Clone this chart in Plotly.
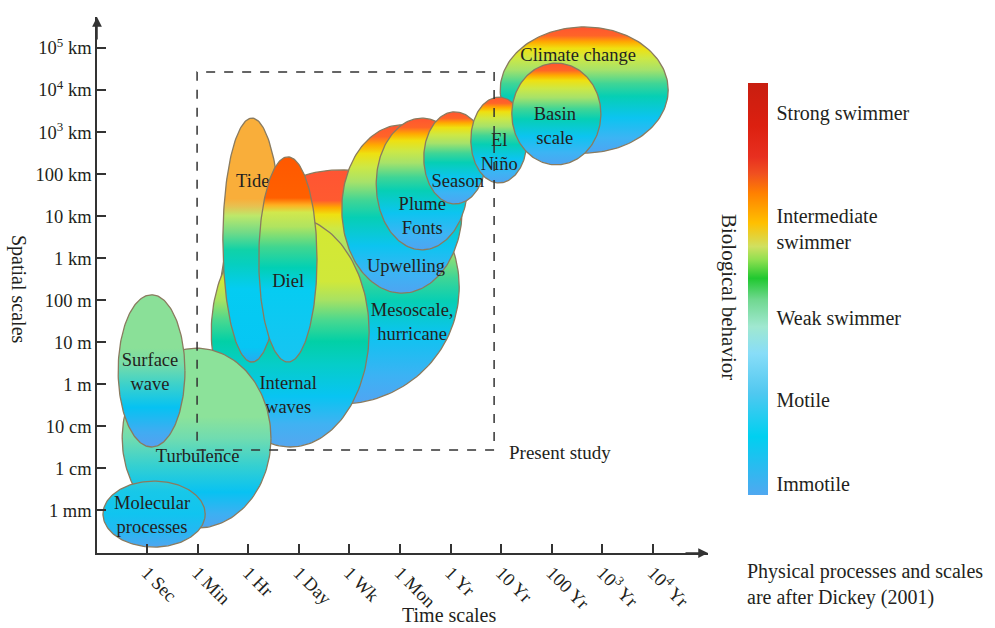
import numpy as np
import plotly.graph_objects as go

# ---- axis categories -------------------------------------------------------
time_labels = ["1 Sec", "1 Min", "1 Hr", "1 Day", "1 Wk", "1 Mon", "1 Yr",
               "10 Yr", "100 Yr", "10<sup>3</sup> Yr", "10<sup>4</sup> Yr"]
space_labels = ["1 mm", "1 cm", "10 cm", "1 m", "10 m", "100 m", "1 km",
                "10 km", "100 km", "10<sup>3</sup> km", "10<sup>4</sup> km",
                "10<sup>5</sup> km"]

# ---- physical processes: extent on the time and space scales ---------------
processes = ["Mesoscale,<br>hurricane", "Internal<br>waves", "Tide", "Diel",
             "Turbulence", "Surface<br>wave", "Molecular<br>processes",
             "Upwelling", "Plume<br>Fonts", "Season", "Climate change",
             "El<br>Niño", "Basin<br>scale"]
time_lo = [1.46, 1.27, 1.50, 2.21, -0.49, -0.57, -0.87, 3.85, 4.53, 5.47, 6.98, 6.40, 7.21]
time_hi = [6.17, 4.39, 2.65, 3.36, 2.45, 0.75, 1.15, 6.23, 6.34, 6.70, 10.30, 7.51, 8.97]
space_lo = [2.53, 1.51, 3.53, 3.53, -0.42, 1.51, -0.87, 5.17, 6.20, 7.29, 8.50, 7.79, 8.22]
space_hi = [8.10, 6.98, 9.33, 8.41, 3.86, 5.13, 0.70, 9.17, 9.33, 9.48, 11.50, 9.83, 10.64]

# extent of the present study
study_time = [0.99, 6.86]
study_space = [1.44, 10.43]

# biological behaviour classes on the colour bar
behavior_labels = ["Strong swimmer", "Intermediate<br>swimmer", "Weak swimmer",
                   "Motile", "Immotile"]
behavior_pos = [0.927, 0.646, 0.43, 0.231, 0.027]

# ---- styling -----------------------------------------------------------------
FONT = "Liberation Serif"
INK = "#231f20"
EDGE = "#8a7b5f"

full = [[0.0, "#4ea4f2"], [0.12, "#3cb4f4"], [0.28, "#0cc4f0"], [0.45, "#06cfb4"],
        [0.55, "#3fd596"], [0.66, "#a6e26a"], [0.75, "#cde845"], [0.83, "#efe010"],
        [0.88, "#ffaa00"], [0.93, "#ff6428"], [1.0, "#ff5530"]]
meso = [[0.0, "#52a4f2"], [0.12, "#3cb2f4"], [0.3, "#0cc4f0"], [0.44, "#06cfb4"],
        [0.54, "#3fd596"], [0.66, "#a6e26a"], [0.75, "#cde845"], [0.81, "#efe010"],
        [0.84, "#ffa800"], [0.87, "#ff5a30"], [1.0, "#ff5533"]]
internal = [[0.0, "#55a6f0"], [0.1, "#40b2f2"], [0.22, "#08c4f2"], [0.36, "#06cdc8"],
            [0.46, "#02d0a6"], [0.55, "#48d890"], [0.64, "#a8e262"], [0.72, "#d0e83a"],
            [1.0, "#d4e832"]]
tide = [[0.0, "#28aaf0"], [0.06, "#06c6f4"], [0.3, "#04ccf2"], [0.4, "#06cfc0"],
        [0.46, "#10d2a8"], [0.53, "#70da88"], [0.6, "#bde86a"], [0.64, "#e8c050"],
        [0.67, "#f9ae3a"], [1.0, "#f9ae3a"]]
diel = [[0.0, "#18c4f2"], [0.35, "#06ccf2"], [0.46, "#02d0b4"], [0.56, "#40d690"],
        [0.66, "#b0e460"], [0.73, "#d2e84c"], [0.765, "#ffb020"], [0.8, "#ff6000"],
        [1.0, "#ff5800"]]
turb = [[0.0, "#50a4f0"], [0.08, "#3cb0f2"], [0.2, "#08c2f2"], [0.35, "#36d0d0"],
        [0.5, "#70dcb0"], [0.62, "#8ce29a"], [1.0, "#8ce29a"]]
surface = [[0.0, "#55a0f0"], [0.1, "#40acf2"], [0.26, "#06c2f2"], [0.42, "#40d2c8"],
           [0.55, "#78dca8"], [0.65, "#8ae098"], [1.0, "#8ae098"]]
molecular = [[0.0, "#4fa6f0"], [0.25, "#24b8f2"], [0.5, "#10c4f0"], [0.85, "#18c8e8"],
             [1.0, "#34cad8"]]
fills = [meso, internal, tide, diel, turb, surface, molecular,
         full, full, full, full, full, full]

# label anchor points (time index, space index)
label_xy = [(5.24, 4.46), (2.79, 2.72), (2.09, 7.81), (2.79, 5.43), (1.0, 1.27),
            (0.06, 3.27), (0.10, -0.13), (5.12, 5.79), (5.44, 6.96), (6.14, 7.81),
            (8.52, 10.81), (6.96, 8.50), (8.06, 9.10)]

behavior_scale = [[0.0, "#50a8f0"], [0.142, "#00d0f0"], [0.247, "#50c8f0"],
                  [0.344, "#88ddf8"], [0.409, "#a0e8d0"], [0.474, "#70d890"],
                  [0.526, "#20c830"], [0.571, "#90e050"], [0.603, "#d0e060"],
                  [0.66, "#ffc000"], [0.733, "#ff8000"], [0.78, "#f05020"],
                  [0.82, "#e83020"], [0.895, "#dc2010"], [1.0, "#c81e10"]]

# ---- figure geometry -----------------------------------------------------------
W, H = 995, 628
ML, MR, MT, MB = 97, 287, 17, 75
PW, PH = W - ML - MR, H - MT - MB
XR = [-0.988, 11.087]
YR = [-1.011, 11.736]


def px(x):
    return (x - ML) / PW


def py(y):
    return (H - MB - y) / PH


fig = go.Figure()

t = np.linspace(0, 2 * np.pi, 181)
for i, name in enumerate(processes):
    cx = (time_lo[i] + time_hi[i]) / 2
    cy = (space_lo[i] + space_hi[i]) / 2
    rx = (time_hi[i] - time_lo[i]) / 2
    ry = (space_hi[i] - space_lo[i]) / 2
    fig.add_trace(go.Scatter(
        x=cx + rx * np.cos(t), y=cy + ry * np.sin(t),
        mode="lines", fill="toself",
        fillgradient=dict(type="vertical", colorscale=fills[i]),
        line=dict(color=EDGE, width=1.3),
        hoverinfo="skip", showlegend=False))
    lx, ly = label_xy[i]
    fig.add_trace(go.Scatter(
        x=[lx], y=[ly], mode="text", text=[name],
        textposition="middle center",
        textfont=dict(family=FONT, size=18.5, color=INK),
        hoverinfo="skip", showlegend=False))

# colour bar for the biological behaviour classes
fig.add_trace(go.Scatter(
    x=[-5], y=[-5], mode="markers",
    marker=dict(size=1, color=[0.5], cmin=0, cmax=1,
                colorscale=behavior_scale, showscale=True,
                colorbar=dict(x=px(748), xanchor="left", xpad=0,
                              y=py(289), yanchor="middle", ypad=0,
                              thickness=20, thicknessmode="pixels",
                              len=412, lenmode="pixels",
                              outlinewidth=0, ticks="outside", ticklen=5,
                              tickcolor="rgba(0,0,0,0)",
                              tickvals=behavior_pos, ticktext=behavior_labels,
                              tickfont=dict(family=FONT, size=20, color=INK))),
    hoverinfo="skip", showlegend=False))

# study extent
fig.add_shape(type="rect", xref="x", yref="y",
              x0=study_time[0], x1=study_time[1],
              y0=study_space[0], y1=study_space[1],
              line=dict(color="#333333", width=1.5, dash="dash"), layer="above")

# axis arrows
fig.add_annotation(x=0, y=1, xref="paper", yref="paper", ax=0, ay=24,
                   showarrow=True, arrowhead=2, arrowsize=1.3, arrowwidth=1.5,
                   arrowcolor="#333333", text="")
fig.add_annotation(x=1, y=0, xref="paper", yref="paper", ax=-24, ay=0,
                   showarrow=True, arrowhead=2, arrowsize=1.3, arrowwidth=1.5,
                   arrowcolor="#333333", text="")

texts = [
    ("Spatial scales", 18, 290, 90, 20),
    ("Time scales", 449, 615, 0, 20),
    ("Biological behavior", 729, 297, 90, 21),
    ("Present study", 560, 452, 0, 19),
]
for s, x, y, ang, size in texts:
    fig.add_annotation(x=px(x), y=py(y), xref="paper", yref="paper", text=s,
                       xanchor="center", yanchor="middle",
                       showarrow=False, textangle=ang,
                       font=dict(family=FONT, size=size, color=INK))
fig.add_annotation(x=px(745), y=py(584), xref="paper", yref="paper",
                   xanchor="left", yanchor="middle", align="left",
                   text="Physical processes and scales<br>are after Dickey (2001)",
                   showarrow=False, font=dict(family=FONT, size=20, color=INK))

axis_common = dict(showgrid=False, zeroline=False, showline=True,
                   linecolor="#333333", linewidth=1.5, ticks="inside",
                   ticklen=9, tickwidth=1.5, tickcolor="#333333",
                   tickfont=dict(family=FONT, size=18.5, color=INK), fixedrange=True)
fig.update_xaxes(range=XR, tickmode="array", tickvals=list(range(len(time_labels))),
                 ticktext=time_labels, tickangle=45, **axis_common)
fig.update_yaxes(range=YR, tickmode="array", tickvals=list(range(len(space_labels))),
                 ticktext=space_labels, **axis_common)

fig.update_layout(width=W, height=H, margin=dict(l=ML, r=MR, t=MT, b=MB),
                  paper_bgcolor="white", plot_bgcolor="white",
                  showlegend=False, hovermode=False)

fig.write_html("out.html")
